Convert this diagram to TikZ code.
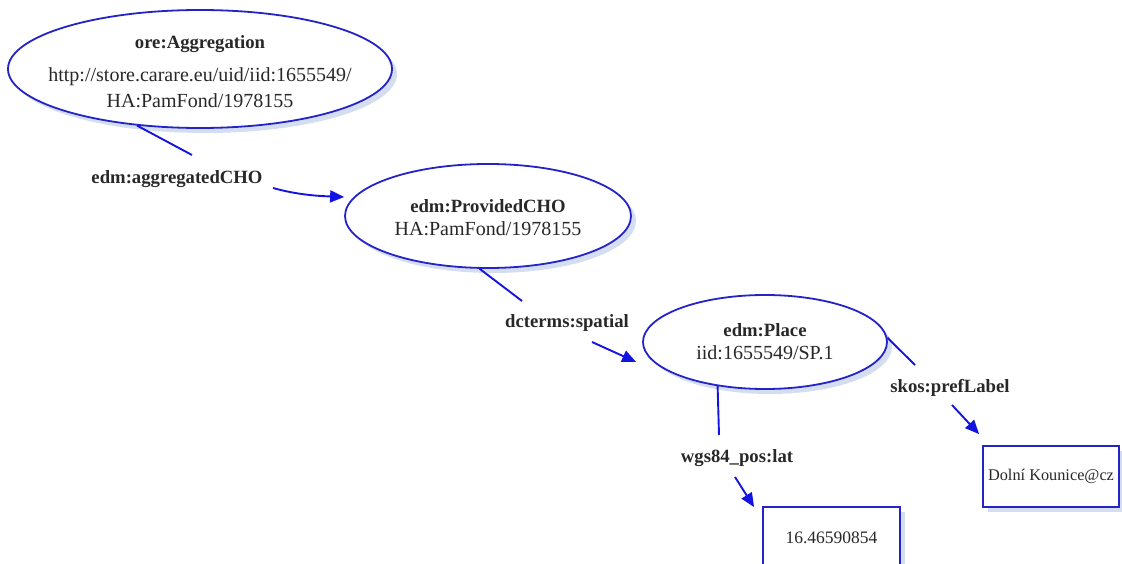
\documentclass[tikz,border=0pt]{standalone}
\usepackage{fontspec}
\setmainfont{Liberation Serif}
\usetikzlibrary{arrows.meta,shapes.geometric,shadows,calc}
\definecolor{eblue}{RGB}{35,35,200}
\definecolor{lblue}{RGB}{20,20,225}
\definecolor{sblue}{RGB}{212,222,240}
\definecolor{tgray}{RGB}{40,40,40}
\begin{document}
\begin{tikzpicture}[x=1pt,y=1pt,
  softshadow/.style={drop shadow={fill=sblue,opacity=1,shadow xshift=5pt,shadow yshift=-5pt}},
  res/.style={ellipse,draw=eblue,line width=1.8pt,fill=white,softshadow,inner sep=0pt,align=center,text=tgray},
  lit/.style={rectangle,draw=eblue,line width=1.8pt,fill=white,softshadow,inner sep=0pt,text=tgray},
  prop/.style={anchor=base,inner sep=0pt,text=tgray,font=\fontsize{18.7}{22}\selectfont\bfseries},
  link/.style={draw=lblue,line width=1.9pt},
  arr/.style={link,-{Triangle[length=14pt,width=12pt]}},
]
\useasboundingbox (0,0) rectangle (1122,-564);

% resources
\node[res,inner sep=-45pt,minimum width=384pt,minimum height=118pt,font=\fontsize{20}{26}\selectfont] (e1) at (200,-69)
  {\rule{0pt}{19pt}\textbf{\fontsize{18.7}{26}\selectfont ore:Aggregation}\\[7pt]http://store.carare.eu/uid/iid:1655549/\\HA:PamFond/1978155};
\node[res,minimum width=286pt,minimum height=104pt,font=\fontsize{20}{23}\selectfont] (e2) at (488,-216)
  {\rule{0pt}{16pt}\textbf{\fontsize{18.7}{23}\selectfont edm:ProvidedCHO}\\HA:PamFond/1978155};
\node[res,minimum width=244pt,minimum height=94pt,font=\fontsize{20}{23}\selectfont] (e3) at (765,-342)
  {\textbf{\fontsize{18.7}{23}\selectfont edm:Place}\\iid:1655549/SP.1};

% literals
\node[lit,minimum width=137pt,minimum height=62pt,font=\fontsize{17.5}{20}\selectfont] (b1) at (831.5,-538) {16.46590854};
\node[lit,minimum width=136pt,minimum height=61pt,font=\fontsize{16.3}{20}\selectfont] (b2) at (1051,-476.5) {Dolní Kounice@cz};

% property labels
\node[prop] (l1) at (177,-184) {edm:aggregatedCHO};
\node[prop] (l2) at (567,-327) {dcterms:spatial};
\node[prop] (l3) at (737,-462) {wgs84\_pos:lat};
\node[prop] (l4) at (950,-392) {skos:prefLabel};

% connectors
\draw[link] (e1.-138) -- ($(l1.base)+(15,29)$);
\draw[arr] ($(l1.base)+(96,-4)$) .. controls +(25,-7) and +(-25,1) .. ($(e2.west)+(0,19)$);
\draw[link] (e2.-99) -- ($(l2.base)+(-45,26)$);
\draw[arr] ($(l2.base)+(25,-15)$) -- ($(e3.west)+(-6,-20)$);
\draw[link] (e3.-137) -- ($(l3.base)+(-18,27)$);
\draw[arr] ($(l3.base)+(-2,-15)$) -- ($(b1.north west)+(-8,-1)$);
\draw[link] (e3.2) -- ($(l4.base)+(-35,27)$);
\draw[arr] ($(l4.base)+(2,-13)$) -- ($(b2.north west)+(-3,11)$);
\end{tikzpicture}
\end{document}
